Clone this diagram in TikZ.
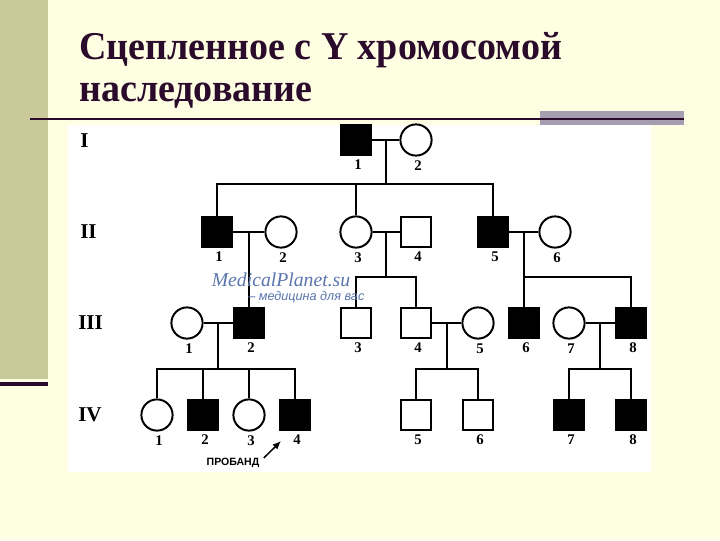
\documentclass[tikz,border=0pt]{standalone}
\usepackage{fontspec}
\setmainfont{Liberation Serif}
\setsansfont{Liberation Sans}
\usetikzlibrary{arrows.meta,positioning,calc}
\definecolor{pagebg}{HTML}{FEFEE2}
\definecolor{sidebar}{HTML}{C9C99A}
\definecolor{titlefg}{HTML}{2B0B2B}
\definecolor{greybar}{HTML}{A69EB0}
\definecolor{wmark}{HTML}{5A76AC}
\newcommand{\person}[4]{%
  \node[#3] (#1) at (#2) {};
  \node[num, below=2.5pt of #1, xshift=1.5pt] (#1n) {#4};
}
\newcommand{\couple}[4]{%
  \draw[link] (#1) -- (#2);
  \coordinate (#3) at ($(#1)!0.5!(#2)$);
  \coordinate (#3s) at (#3 |- 0,#4);
}

\begin{document}
\begin{tikzpicture}[
  x=0.025cm,
  y=-0.025cm,
  line join=miter,
  >=Latex,
  male/.style={draw, rectangle, line width=1.4pt, minimum size=0.76cm, inner sep=0, fill=white},
  female/.style={draw, circle, line width=1.4pt, minimum size=0.78cm, inner sep=0, fill=white},
  ill/.style={fill=black},
  link/.style={line width=1.4pt},
  num/.style={font=\bfseries\fontsize{10.5}{12}\selectfont, inner sep=0},
  gen/.style={font=\bfseries\fontsize{15}{17}\selectfont, anchor=west, inner sep=0},
  heading/.style={font=\bfseries\fontsize{28}{32}\selectfont, text=titlefg, anchor=base west, inner sep=0}
]
  % slide background
  \fill[pagebg] (0,0) rectangle (720,540);
  \fill[sidebar] (0,0) rectangle (48,379);
  \fill[titlefg] (0,382) rectangle (48,386);
  \fill[greybar] (540,111) rectangle (684,125);
  \draw[titlefg, line width=1.5pt] (30,119) -- (684,119);
  \fill[white] (68,125) rectangle (651,472);

  \node[heading] (t1) at (79,59) {\scalebox{0.965}[1]{Сцепленное с Y хромосомой}};
  \node[heading] (t2) at (79,101) {\scalebox{0.965}[1]{наследование}};

  % generations
  \node[gen] (g1) at (80,141) {I};
  \node[gen] (g2) at (80,232) {II};
  \node[gen] (g3) at (78,323) {III};
  \node[gen] (g4) at (78,415) {IV};

  % I
  \person{I1}{356,140}{male,ill}{1}
  \person{I2}{416,140}{female}{2}

  % II
  \person{II1}{217,232}{male,ill}{1}
  \person{II2}{281,232}{female}{2}
  \person{II3}{356,232}{female}{3}
  \person{II4}{416,232}{male}{4}
  \person{II5}{493,232}{male,ill}{5}
  \person{II6}{555,232}{female}{6}

  % III
  \person{III1}{187,323}{female}{1}
  \person{III2}{249,323}{male,ill}{2}
  \person{III3}{356,323}{male}{3}
  \person{III4}{416,323}{male}{4}
  \person{III5}{478,323}{female}{5}
  \person{III6}{524,323}{male,ill}{6}
  \person{III7}{569,323}{female}{7}
  \person{III8}{631,323}{male,ill}{8}

  % IV
  \person{IV1}{157,415}{female}{1}
  \person{IV2}{203,415}{male,ill}{2}
  \person{IV3}{249,415}{female}{3}
  \person{IV4}{295,415}{male,ill}{4}
  \person{IV5}{416,415}{male}{5}
  \person{IV6}{478,415}{male}{6}
  \person{IV7}{569,415}{male,ill}{7}
  \person{IV8}{631,415}{male,ill}{8}

  % I -> II
  \couple{I1}{I2}{mI}{184}
  \draw[link] (mI) -- (mIs);
  \draw[link] (mIs) -| (II1);
  \draw[link] (mIs) -| (II3);
  \draw[link] (mIs) -| (II5);

  % II -> III
  \couple{II1}{II2}{mA}{277}
  \draw[link] (mA) -- (III2);
  \couple{II3}{II4}{mB}{277}
  \draw[link] (mB) -- (mBs);
  \draw[link] (mBs) -| (III3);
  \draw[link] (mBs) -| (III4);
  \couple{II5}{II6}{mC}{277}
  \draw[link] (mC) -- (III6);
  \draw[link] (mCs) -| (III8);

  % III -> IV
  \couple{III1}{III2}{mD}{369}
  \draw[link] (mD) -- (mDs);
  \foreach \k in {IV1,IV2,IV3,IV4}
    \draw[link] (mDs) -| (\k);
  \couple{III4}{III5}{mE}{369}
  \draw[link] (mE) -- (mEs);
  \draw[link] (mEs) -| (IV5);
  \draw[link] (mEs) -| (IV6);
  \couple{III7}{III8}{mF}{369}
  \draw[link] (mF) -- (mFs);
  \draw[link] (mFs) -| (IV7);
  \draw[link] (mFs) -| (IV8);

  % watermark
  \node[text=wmark, font=\itshape\fontsize{14}{16}\selectfont, inner sep=0, anchor=base] (wm) at (281,286) {MedicalPlanet.su};
  \node[text=wmark, font=\sffamily\itshape\fontsize{9}{10}\selectfont, inner sep=0, anchor=west] (wm2) at (248,297) {– медицина для вас};

  % proband
  \node[font=\sffamily\bfseries\fontsize{7.5}{9}\selectfont, inner sep=0] (prob) at (233,463) {ПРОБАНД};
  \coordinate (tip) at (281,441);
  \draw[line width=1.1pt, -{Latex[length=6pt,width=5pt]}] ([xshift=3pt]prob.north east) -- (tip);
\end{tikzpicture}
\end{document}
